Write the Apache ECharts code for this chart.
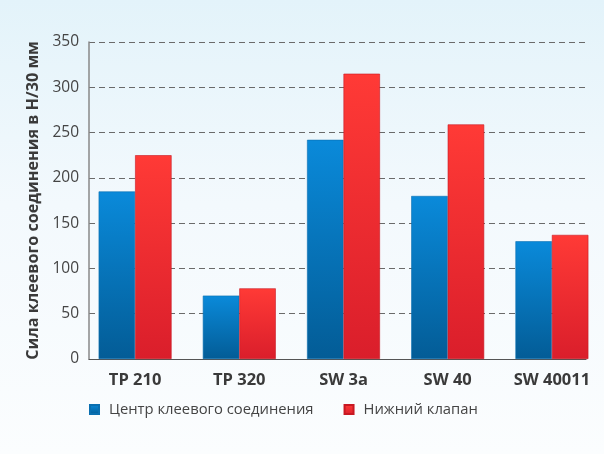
<!DOCTYPE html>
<html>
<head>
<meta charset="utf-8">
<script src="https://cdn.jsdelivr.net/npm/echarts@6/dist/echarts.min.js"></script>
<style>
html,body{margin:0;padding:0;}
body{width:604px;height:454px;background:linear-gradient(to bottom,#e3f3fa 0%,#f3f9fd 45%,#fbfdfe 100%);}
#c{width:604px;height:454px;}
</style>
</head>
<body>
<div id="c"></div>
<script>
var categories = ['TP 210', 'TP 320', 'SW 3a', 'SW 40', 'SW 40011'];
var seriesNames = ['Центр клеевого соединения', 'Нижний клапан'];
var centerValues = [185, 70, 242, 180, 130];
var bottomValues = [225, 78, 315, 259, 137];
var yTicks = { min: 0, max: 350, interval: 50 };
var yTitle = 'Сила клеевого соединения в Н/30 мм';

var FONT = 'Open Sans';
var chart = echarts.init(document.getElementById('c'), null, { renderer: 'canvas' });

function grad(top, bottom) {
  return new echarts.graphic.LinearGradient(0, 0, 0, 1, [
    { offset: 0, color: top }, { offset: 1, color: bottom }
  ]);
}

chart.setOption({
  backgroundColor: 'transparent',
  animation: false,
  textStyle: { fontFamily: FONT },
  grid: [
    { left: 83, right: 0, top: 42, bottom: 95 },
    { left: 89, right: 18, top: 42, bottom: 95 }
  ],
  legend: {
    left: 89, top: 402, padding: 0,
    icon: 'rect', itemWidth: 9, itemHeight: 9, itemGap: 30,
    textStyle: { fontFamily: FONT, fontSize: 14.8, color: '#444', padding: [0, 0, 0, 5] },
    data: seriesNames
  },
  xAxis: [
    {
      type: 'category', gridIndex: 0, data: categories,
      axisLine: { show: false }, axisTick: { show: false },
      axisLabel: { fontFamily: FONT, fontSize: 16.5, fontWeight: 'bold', color: '#3a3a3a', margin: 13 }
    },
    {
      type: 'category', gridIndex: 1, data: categories,
      axisLine: { show: true, lineStyle: { color: '#555', width: 1.2 } },
      axisTick: { show: false }, axisLabel: { show: false }
    }
  ],
  yAxis: [
    {
      type: 'value', gridIndex: 0, min: yTicks.min, max: yTicks.max, interval: yTicks.interval,
      show: false, splitLine: { show: false }
    },
    {
      type: 'value', gridIndex: 1, min: yTicks.min, max: yTicks.max, interval: yTicks.interval,
      name: yTitle, nameLocation: 'middle', nameGap: 48, nameRotate: 90,
      nameTextStyle: { fontFamily: FONT, fontSize: 16.2, fontWeight: 'bold', color: '#3a3a3a' },
      axisLine: { show: true, lineStyle: { color: '#888', width: 1.5 } },
      axisTick: { show: false },
      axisLabel: { fontFamily: FONT, fontSize: 15.5, color: '#444', margin: 10 },
      splitLine: { show: true, lineStyle: { color: '#6a6a6a', type: [6, 4], width: 1.2 } }
    }
  ],
  series: [
    {
      name: seriesNames[0], type: 'bar', xAxisIndex: 0, yAxisIndex: 0,
      data: centerValues, barGap: '0%', barCategoryGap: '30%',
      itemStyle: { color: grad('#0a8ada', '#035c96'), borderColor: '#0a6fb0', borderWidth: 0.6 }
    },
    {
      name: seriesNames[1], type: 'bar', xAxisIndex: 0, yAxisIndex: 0,
      data: bottomValues, barGap: '0%', barCategoryGap: '30%',
      itemStyle: { color: grad('#ff3a36', '#da1e2b'), borderColor: '#c81822', borderWidth: 0.6 }
    }
  ]
});
</script>
</body>
</html>
